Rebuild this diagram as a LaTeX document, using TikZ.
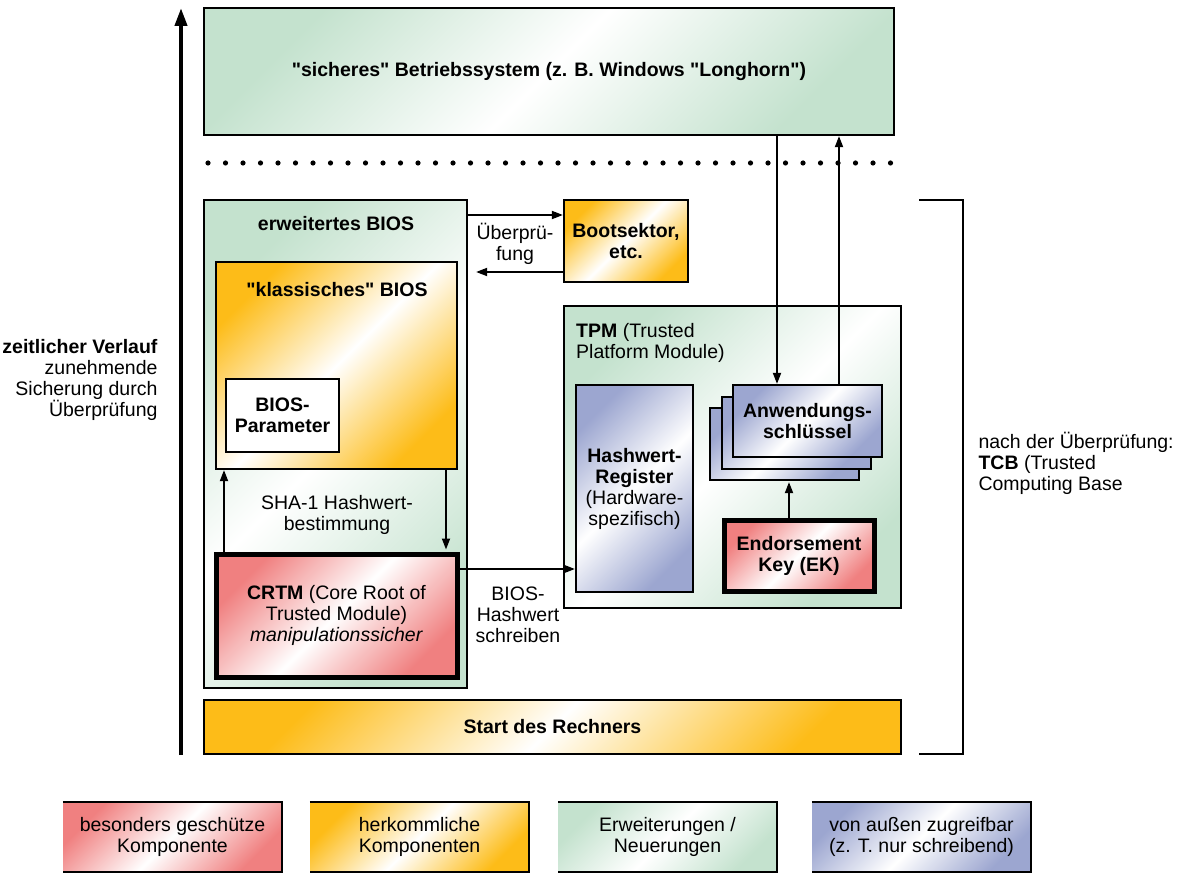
\documentclass[tikz,border=0pt]{standalone}
\usepackage{fontspec}
\setmainfont{Liberation Sans}[Ligatures=TeXOff]
\usetikzlibrary{arrows.meta}
\definecolor{rotK}{RGB}{240,128,128}
\definecolor{gelbK}{RGB}{253,188,24}
\definecolor{gruenK}{RGB}{196,226,206}
\definecolor{blauK}{RGB}{156,166,208}
\begin{document}
\begin{tikzpicture}[x=1pt,y=-1pt,font=\fontsize{19.5}{21}\selectfont,
        >={Triangle[length=11pt,width=8pt]},
        grad/.style={left color=#1,right color=#1,middle color=white,shading angle=45},
        box/.style={draw,line width=2.2pt,inner sep=0pt,align=center},
        fest/.style={box,line width=5pt,grad=rotK},
        pfeil/.style={->,line width=1.8pt},
        legbox/.style={inner sep=0pt,align=center,minimum width=219pt,minimum height=70pt}]
        \useasboundingbox (0,0) rectangle (1181,874);

        % Zeitachse
        \coordinate (t0) at (181,755);
        \coordinate (t1) at (181,8);
        \draw[line width=4pt,-{Triangle[length=18pt,width=12pt]}] (t0) -- (t1);
        \node[anchor=east,align=right] (zeit) at (161,380) {\textbf{zeitlicher Verlauf}\\zunehmende\\Sicherung durch\\Überprüfung};

        % Betriebssystem
        \node[box,grad=gruenK,minimum width=690pt,minimum height=127pt] (os) at (549,71.5) {\textbf{"sicheres" Betriebssystem (z. B. Windows "Longhorn")}};
        \foreach \i in {0,...,39} \fill (208+\i*17.5,163) circle (2.6pt);

        % BIOS
        \node[box,grad=gruenK,minimum width=263pt,minimum height=488pt] (erw) at (335.5,444) {};
        \node (erwtxt) at (336,224) {\textbf{erweitertes BIOS}};
        \node[box,grad=gelbK,minimum width=241pt,minimum height=207pt] (klass) at (336.5,365.5) {};
        \node (klasstxt) at (337,290) {\textbf{"klassisches" BIOS}};
        \node[box,fill=white,line width=1.2pt,minimum width=113pt,minimum height=73pt] (param) at (282.5,415.5) {\textbf{BIOS-}\\\textbf{Parameter}};
        \node[fest,minimum width=241pt,minimum height=123pt] (crtm) at (336.5,615.5) {\textbf{CRTM} (Core Root of\\Trusted Module)\\\textit{manipulationssicher}};
        \node[box,grad=gelbK,minimum width=124pt,minimum height=82pt] (boot) at (626,241) {\textbf{Bootsektor,}\\\textbf{etc.}};

        % TPM
        \node[box,grad=gruenK,minimum width=337pt,minimum height=302pt] (tpm) at (732.5,457) {};
        \node[anchor=north west,align=left,inner sep=0pt] (tpmtxt) at (576,323) {\textbf{TPM} (Trusted\\Platform Module)};
        \node[box,grad=blauK,minimum width=117pt,minimum height=207pt] (hash) at (634.5,488.5) {\textbf{Hashwert-}\\\textbf{Register}\\(Hardware-\\spezifisch)};
        \node[box,grad=blauK,minimum width=149pt,minimum height=72pt] (anw3) at (784.5,444) {};
        \node[box,grad=blauK,minimum width=149pt,minimum height=72pt] (anw2) at (796.5,433) {};
        \node[box,grad=blauK,minimum width=149pt,minimum height=72pt] (anw1) at (807.5,421) {\textbf{Anwendungs-}\\\textbf{schlüssel}};
        \node[fest,minimum width=150pt,minimum height=71pt] (ek) at (799,555.5) {\textbf{Endorsement}\\\textbf{Key (EK)}};

        % Start
        \node[box,grad=gelbK,minimum width=697pt,minimum height=54pt] (start) at (552.5,727) {\textbf{Start des Rechners}};

        % Pfeile
        \draw[pfeil] (erw.east |- 0,215) -- (boot.west |- 0,215);
        \draw[pfeil,shorten >=8pt] (boot.west |- 0,272) -- (erw.east |- 0,272);
        \node[align=center] (pruef) at (515,244) {Überprü-\\fung};
        \draw[pfeil] (crtm.north -| 224,0) -- (klass.south -| 224,0);
        \draw[pfeil,shorten >=2pt] (klass.south -| 446,0) -- (crtm.north -| 446,0);
        \node[align=center] (sha) at (337,515) {SHA-1 Hashwert-\\bestimmung};
        \draw[pfeil] (crtm.east |- 0,569) -- (hash.west |- 0,569);
        \node[align=center] (schreib) at (518,615) {BIOS-\\Hashwert\\schreiben};
        \draw[pfeil] (os.south -| 777,0) -- (anw1.north -| 777,0);
        \draw[pfeil] (anw1.north -| 839,0) -- (os.south -| 839,0);
        \draw[pfeil,shorten >=1pt] (ek.north -| 789,0) -- (anw3.south -| 789,0);

        % Klammer TCB
        \draw[line width=2pt] (919,200) -- (963,200) -- (963,754) -- (919,754);
        \node[anchor=west,align=left] (tcb) at (975,463) {nach der Überprüfung:\\\textbf{TCB} (Trusted\\Computing Base};

        % Legende
        \node[legbox,grad=rotK] (leg1) at (172.5,837) {besonders geschütze\\Komponente};
        \node[legbox,grad=gelbK] (leg2) at (419.5,837) {herkommliche\\Komponenten};
        \node[legbox,grad=gruenK] (leg3) at (667.5,837) {Erweiterungen /\\Neuerungen};
        \node[legbox,grad=blauK] (leg4) at (921.5,837) {von außen zugreifbar\\(z. T. nur schreibend)};
        \foreach \l in {leg1,leg2,leg3,leg4}
            \draw[line width=2.2pt] (\l.north west) -- (\l.north east) -- (\l.south east) -- (\l.south west);
\end{tikzpicture}
\end{document}
